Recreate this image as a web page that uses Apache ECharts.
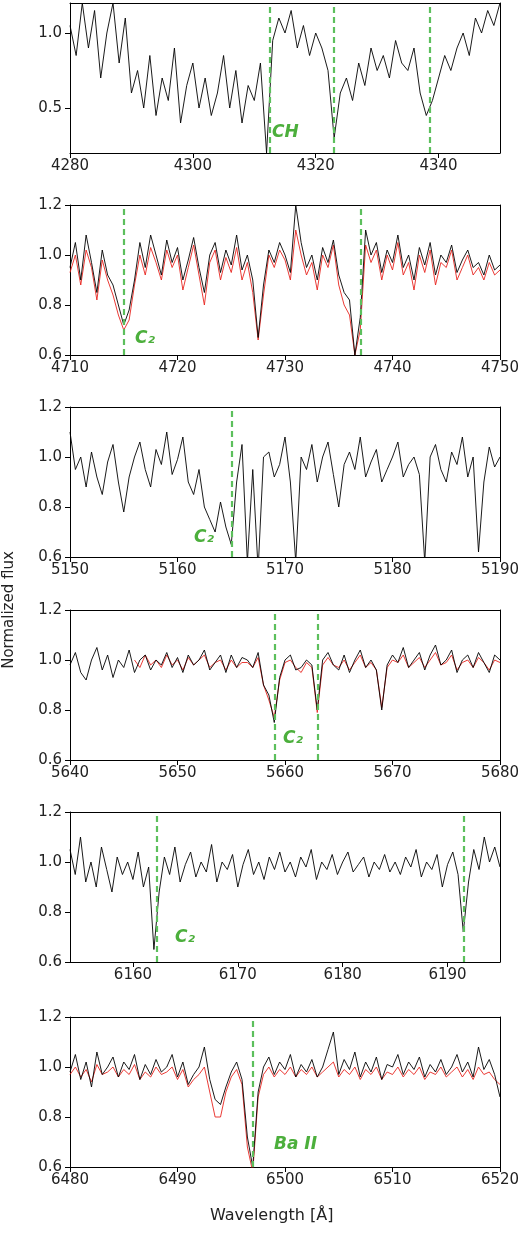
<!DOCTYPE html>
<html><head><meta charset="utf-8">
<script src="https://cdn.jsdelivr.net/npm/echarts@6/dist/echarts.min.js"></script>
<style>html,body{margin:0;padding:0;background:#fff}#c{width:520px;height:1234px}</style>
</head><body><div id="c"></div>
<script>
const ranges=[[4280,4350],[4710,4750],[5150,5190],[5640,5680],[6154,6195],[6480,6520]];
const starts=[4280,4710,5150,5640,6154,6480];
const steps=[1,0.5,0.5,0.5,0.5,0.5];
const p1Black=[1.05,0.85,1.2,0.9,1.15,0.7,1.0,1.2,0.8,1.1,0.6,0.75,0.5,0.85,0.45,0.7,0.55,0.9,0.4,0.65,0.8,0.5,0.7,0.45,0.6,0.85,0.5,0.75,0.4,0.65,0.55,0.8,0.2,0.95,1.1,1.0,1.15,0.9,1.05,0.85,1.0,0.9,0.75,0.3,0.6,0.7,0.55,0.8,0.65,0.9,0.75,0.85,0.7,0.95,0.8,0.75,0.9,0.6,0.45,0.55,0.7,0.85,0.75,0.9,1.0,0.85,1.1,1.0,1.15,1.05,1.2];
const p2Black=[0.95,1.05,0.9,1.08,0.97,0.85,1.02,0.92,0.88,0.8,0.72,0.78,0.9,1.05,0.95,1.08,1.0,0.92,1.06,0.97,1.03,0.9,0.98,1.07,0.95,0.85,1.0,1.05,0.93,1.02,0.96,1.08,0.94,1.0,0.9,0.67,0.88,1.02,0.97,1.05,1.0,0.93,1.2,1.05,0.95,1.0,0.9,1.03,0.97,1.06,0.92,0.85,0.82,0.6,0.75,1.1,1.0,1.05,0.93,1.02,0.97,1.08,0.95,1.0,0.9,1.03,0.96,1.05,0.92,1.0,0.97,1.04,0.93,0.98,1.02,0.95,0.97,0.92,1.0,0.94,0.96];
const p2Red=[0.93,1.0,0.88,1.02,0.95,0.82,0.98,0.9,0.84,0.76,0.7,0.74,0.88,1.0,0.92,1.03,0.97,0.9,1.02,0.95,1.0,0.86,0.95,1.04,0.92,0.8,0.97,1.02,0.9,0.99,0.93,1.03,0.9,0.97,0.85,0.66,0.84,1.0,0.95,1.02,0.98,0.9,1.1,1.0,0.92,0.97,0.86,1.0,0.95,1.04,0.88,0.8,0.76,0.6,0.7,1.04,0.97,1.02,0.9,1.0,0.94,1.05,0.92,0.97,0.86,1.0,0.93,1.02,0.88,0.97,0.95,1.02,0.9,0.95,1.0,0.92,0.95,0.9,0.97,0.92,0.94];
const p3Black=[1.1,0.95,1.0,0.88,1.02,0.92,0.85,0.98,1.05,0.9,0.78,0.92,1.0,1.06,0.95,0.88,1.03,0.97,1.1,0.93,0.99,1.08,0.9,0.85,0.95,0.8,0.75,0.7,0.82,0.72,0.65,0.9,1.05,0.58,0.95,0.55,1.0,1.02,0.92,0.97,1.08,0.9,0.58,1.0,0.95,1.05,0.9,1.0,1.06,0.93,0.8,0.97,1.02,0.95,1.08,0.92,0.98,1.03,0.9,0.95,1.0,1.06,0.92,0.97,1.0,0.93,0.58,1.0,1.05,0.95,0.9,1.02,0.97,1.08,0.92,1.0,0.62,0.9,1.04,0.96,1.0];
const p4Black=[0.98,1.03,0.95,0.92,1.0,1.05,0.96,1.02,0.93,1.0,0.97,1.04,0.95,1.0,1.02,0.96,1.0,0.98,1.03,0.97,1.01,0.95,1.02,0.98,1.0,1.04,0.96,0.99,1.02,0.95,1.02,0.97,1.01,1.0,0.97,1.03,0.9,0.86,0.75,0.93,1.0,1.02,0.96,0.97,1.0,0.98,0.8,1.0,1.03,0.98,0.96,1.02,0.95,1.0,1.04,0.97,1.0,0.96,0.8,0.98,1.02,0.99,1.05,0.97,1.0,1.03,0.96,1.02,1.06,0.98,1.0,1.04,0.95,1.0,1.02,0.97,1.03,0.99,0.95,1.02,1.0];
const p4Red=[null,null,null,null,null,null,null,null,null,null,null,null,1.0,0.97,1.02,0.98,1.0,0.97,1.02,0.98,1.0,0.96,1.01,0.98,1.0,1.02,0.97,0.99,1.0,0.96,1.0,0.97,0.99,0.99,0.97,1.01,0.9,0.84,0.77,0.92,0.99,1.0,0.97,0.95,0.99,0.97,0.79,0.98,1.01,0.98,0.97,1.0,0.96,0.99,1.02,0.97,0.99,0.96,0.81,0.97,1.0,0.99,1.02,0.97,0.99,1.01,0.97,1.0,1.03,0.98,0.99,1.02,0.96,0.99,1.0,0.97,1.01,0.99,0.96,1.0,0.99];
const p5Black=[1.05,0.95,1.1,0.92,1.0,0.9,1.06,0.97,0.88,1.02,0.95,1.0,0.93,1.04,0.9,0.98,0.65,0.88,1.02,0.95,1.06,0.92,0.99,1.04,0.94,1.0,0.96,1.07,0.92,1.0,0.97,1.03,0.9,0.99,1.05,0.95,1.0,0.93,1.02,0.97,1.04,0.96,1.0,0.94,1.02,0.98,1.05,0.93,1.0,0.97,1.03,0.95,1.0,1.04,0.96,0.99,1.02,0.94,1.0,0.97,1.03,0.96,1.0,0.95,1.02,0.98,1.05,0.94,1.0,0.97,1.03,0.9,0.99,1.04,0.95,0.72,0.92,1.05,0.97,1.1,1.0,1.06,0.98];
const p6Black=[0.98,1.05,0.95,1.02,0.92,1.06,0.97,1.0,1.04,0.96,1.02,0.99,1.05,0.95,1.01,0.97,1.03,0.98,1.0,1.05,0.96,1.02,0.93,0.97,1.0,1.08,0.95,0.87,0.85,0.92,0.98,1.02,0.95,0.72,0.6,0.9,1.0,1.04,0.97,1.02,0.99,1.05,0.96,1.01,0.98,1.03,0.96,1.0,1.07,1.14,0.97,1.03,0.99,1.06,0.96,1.02,0.98,1.04,0.95,1.01,1.0,1.05,0.97,1.02,0.99,1.04,0.96,1.01,0.98,1.03,0.97,1.0,1.05,0.98,1.02,0.96,1.08,0.99,1.03,0.97,0.88];
const p6Red=[0.97,1.0,0.96,0.99,0.94,1.01,0.97,0.98,1.0,0.96,0.99,0.97,1.01,0.95,0.98,0.96,1.0,0.97,0.98,1.0,0.95,0.99,0.92,0.95,0.97,1.0,0.9,0.8,0.8,0.9,0.96,0.99,0.93,0.68,0.58,0.88,0.97,1.0,0.96,0.99,0.97,1.0,0.96,0.99,0.97,1.0,0.96,0.98,1.0,1.02,0.96,0.99,0.97,1.0,0.95,0.99,0.97,1.0,0.95,0.98,0.97,1.0,0.96,0.99,0.97,1.0,0.95,0.98,0.97,1.0,0.96,0.98,1.0,0.96,0.99,0.95,1.0,0.97,0.98,0.95,0.93];
const blacks=[p1Black,p2Black,p3Black,p4Black,p5Black,p6Black];
const reds=[null,p2Red,null,p4Red,null,p6Red];
const lineMarks=[[4312.5,4323,4338.5],[4715,4737],[5165],[5659,5663],[6162.3,6191.5],[6497]];
const yRanges=[[0.2,1.2],[0.6,1.2],[0.6,1.2],[0.6,1.2],[0.6,1.2],[0.6,1.2]];
const xTicks=[[4280,4300,4320,4340],null,null,null,[6160,6170,6180,6190],null];
const labels=[['CH',272,124],['C₂',135,330],['C₂',194,529],['C₂',283,730],['C₂',175,929],['Ba II',274,1136]];

const tops=[3,205,407,610,812,1017];
const green='#5cbf5c';
const grids=[],xAxes=[],yAxes=[],series=[];
const pair=(arr,i)=>arr.map((v,k)=>[starts[i]+k*steps[i],v]);
tops.forEach((t,i)=>{
  grids.push({left:70,right:20,top:t,height:150,outerBoundsMode:'none',containLabel:false});
  const xa={type:'value',gridIndex:i,min:ranges[i][0],max:ranges[i][1],splitLine:{show:false},
    axisLine:{onZero:false,lineStyle:{color:'#000'}},axisTick:{lineStyle:{color:'#000'},length:5},
    axisLabel:{color:'#222',fontSize:15,fontFamily:'DejaVu Sans',margin:6,formatter:v=>String(v)}};
  if(xTicks[i]){xa.axisLabel.customValues=xTicks[i];xa.axisTick.customValues=xTicks[i];}
  else xa.interval=10;
  const ya={type:'value',gridIndex:i,min:yRanges[i][0],max:yRanges[i][1],splitLine:{show:false},
    axisLine:{onZero:false,lineStyle:{color:'#000'}},axisTick:{lineStyle:{color:'#000'},length:5},
    axisLabel:{color:'#222',fontSize:15,fontFamily:'DejaVu Sans',formatter:v=>v.toFixed(1)}};
  if(i===0){ya.axisLabel.customValues=[0.5,1.0];ya.axisTick.customValues=[0.5,1.0];}
  else ya.interval=0.2;
  xAxes.push(xa); yAxes.push(ya);
  const xi=2*i;
  if(reds[i]) series.push({type:'line',xAxisIndex:xi,yAxisIndex:xi,data:pair(reds[i],i),showSymbol:false,lineStyle:{color:'#e8251f',width:0.9},z:2});
  series.push({type:'line',xAxisIndex:xi,yAxisIndex:xi,data:pair(blacks[i],i),showSymbol:false,lineStyle:{color:'#000',width:0.9},z:3,
    markLine:{silent:true,symbol:'none',label:{show:false},lineStyle:{color:green,type:[6,4],width:2.2},data:lineMarks[i].map(x=>({xAxis:x}))}});
  xAxes.push({type:'value',gridIndex:i,position:'top',min:0,max:1,axisLine:{show:true,onZero:false,lineStyle:{color:'#000'}},axisTick:{show:false},axisLabel:{show:false},splitLine:{show:false}});
  yAxes.push({type:'value',gridIndex:i,position:'right',min:0,max:1,axisLine:{show:true,onZero:false,lineStyle:{color:'#000'}},axisTick:{show:false},axisLabel:{show:false},splitLine:{show:false}});
});
const graphic=labels.map(l=>({type:'text',left:l[1],top:l[2],z:10,style:{text:l[0],fill:'#4caf3c',font:'italic bold 17px DejaVu Sans'}}));
graphic.push({type:'text',x:2,y:610,rotation:Math.PI/2,style:{text:'Normalized flux',fill:'#222',font:'15px DejaVu Sans',textAlign:'center',textVerticalAlign:'top'}});
graphic.push({type:'text',left:210,top:1208,style:{text:'Wavelength [Å]',fill:'#222',font:'16px DejaVu Sans'}});
const chart=echarts.init(document.getElementById('c'));
chart.setOption({animation:false,grid:grids,xAxis:xAxes,yAxis:yAxes,series,graphic});
</script></body></html>
